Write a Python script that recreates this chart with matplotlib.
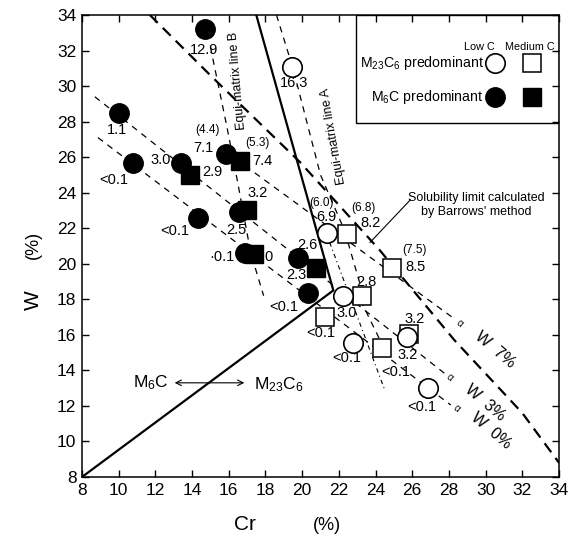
import matplotlib
matplotlib.use("Agg")
import matplotlib.pyplot as plt
from matplotlib.patches import Rectangle

plt.rcParams["font.family"] = ["Liberation Sans", "DejaVu Sans"]
plt.rcParams["mathtext.default"] = "regular"

# ---- data (Cr %, W %) ----
# M6C predominant, low C  (filled circles)
m6c_low_cr = [14.7, 10.0, 10.8, 13.4, 15.85, 14.3, 16.55, 16.9, 19.8, 20.3]
m6c_low_w = [33.2, 28.5, 25.65, 25.65, 26.2, 22.6, 22.9, 20.6, 20.3, 18.35]
m6c_low_lab = ["12.9", "1.1", "<0.1", "3.0", "7.1", "<0.1", "2.5", "·0.1", "2.6", "<0.1"]
# M6C predominant, medium C  (filled squares)
m6c_med_cr = [13.9, 16.6, 17.0, 17.4, 20.75]
m6c_med_w = [25.0, 25.8, 23.0, 20.55, 19.75]
m6c_med_lab = ["2.9", "7.4", "3.2", "0", "2.3"]
# M23C6 predominant, low C  (open circles)
m23_low_cr = [19.45, 21.35, 22.2, 22.77, 25.7, 26.85]
m23_low_w = [31.07, 21.73, 18.2, 15.54, 15.88, 13.0]
m23_low_lab = ["16.3", "6.9", "3.0", "<0.1", "3.2", "<0.1"]
# M23C6 predominant, medium C  (open squares)
m23_med_cr = [22.44, 24.9, 23.26, 21.24, 24.35, 25.82]
m23_med_w = [21.7, 19.76, 18.19, 17.0, 15.26, 16.05]
m23_med_lab = ["8.2", "8.5", "2.8", "<0.1", "<0.1", "3.2"]

# secondary values in brackets above some points
paren_cr = [15.85, 16.6, 21.35, 22.44, 24.9]
paren_w = [26.2, 25.8, 21.73, 21.7, 19.76]
paren_lab = ["(4.4)", "(5.3)", "(6.0)", "(6.8)", "(7.5)"]

# M6C / M23C6 boundary (solid)
bound_cr = [8.0, 21.7, 17.5]
bound_w = [8.0, 18.5, 34.0]
# solubility limit by Barrows' method (heavy dashed)
sol_cr = [11.7, 15.1, 19.9, 24.2, 28.3, 32.0, 34.0]
sol_w = [34.0, 30.5, 25.7, 20.8, 15.7, 11.6, 8.8]
# equi-matrix lines
eqb_cr = [15.0, 15.4, 15.9, 16.5, 17.2, 17.9]
eqb_w = [32.2, 30.2, 27.7, 24.5, 20.6, 18.2]
eqa_cr = [18.6, 19.5, 21.0, 22.3]
eqa_w = [34.0, 31.0, 25.0, 21.9]
eqa2_cr = [22.5, 23.2, 23.3, 24.2]
eqa2_w = [21.2, 18.7, 17.7, 15.8]
eqa3_cr = [21.5, 24.5]
eqa3_w = [21.2, 12.9]
# alpha-W iso lines
aw7_cr = [15.85, 28.3]
aw7_w = [26.3, 16.9]
aw3_cr = [8.7, 27.8]
aw3_w = [29.4, 13.8]
aw0_cr = [8.87, 28.1]
aw0_w = [27.1, 12.05]

# label offsets (pixels) for the value tags
OFF_M6C_LOW = [(-1, -21), (-2, -17), (-20, -17), (-20, 3), (-23, 6),
               (-23, -13), (-2, -18), (-23, -4), (9, 13), (-24, -14)]
OFF_M6C_MED = [(22, 3), (23, 0), (10, 17), (14, -3), (-20, -7)]
OFF_M23_LOW = [(2, -16), (-1, 16), (4, -17), (-6, -15), (1, -18), (-6, -19)]
OFF_M23_MED = [(24, 11), (23, 1), (4, 14), (-4, -16), (14, -24), (6, 15)]
OFF_PAREN = [(-19, 24), (18, 18), (-5, 30), (17, 26), (22, 18)]


def tag(ax, xs, ys, labs, offs, size=10.5):
    for x, y, s, (dx, dy) in zip(xs, ys, labs, offs):
        ax.annotate(s, (x, y), xytext=(dx, dy), textcoords="offset pixels",
                    ha="center", va="center", fontsize=size)


def main():
    fig = plt.figure(figsize=(5.79, 5.40), dpi=100)
    ax = fig.add_axes([82 / 579, 1 - 477 / 540, (559 - 82) / 579, (477 - 15) / 540])
    ax.set_xlim(8, 34)
    ax.set_ylim(8, 34)
    ax.set_xticks(range(8, 35, 2))
    ax.set_yticks(range(8, 35, 2))
    ax.tick_params(direction="in", top=True, right=True, length=5, width=1,
                   labelsize=12.5, pad=4)
    for sp in ax.spines.values():
        sp.set_linewidth(1.1)

    thin = dict(color="black", lw=0.9, dashes=(5, 4.5))
    ax.plot(bound_cr, bound_w, color="black", lw=1.6)
    ax.plot(sol_cr, sol_w, color="black", lw=1.6, dashes=(5, 3.2))
    ax.plot(eqb_cr, eqb_w, **thin)
    ax.plot(eqa_cr, eqa_w, **thin)
    ax.plot(eqa2_cr, eqa2_w, **thin)
    ax.plot(eqa3_cr, eqa3_w, color="black", lw=0.8, dashes=(4, 3, 1, 3))
    ax.plot(aw7_cr, aw7_w, **thin)
    ax.plot(aw3_cr, aw3_w, **thin)
    ax.plot(aw0_cr, aw0_w, **thin)

    # markers
    ax.plot(m6c_low_cr, m6c_low_w, "o", ms=14, color="black", zorder=4)
    ax.plot(m6c_med_cr, m6c_med_w, "s", ms=13, color="black", zorder=5)
    ax.plot(m23_med_cr, m23_med_w, "s", ms=13, mfc="white", mec="black", mew=1.1, zorder=4)
    ax.plot(m23_low_cr, m23_low_w, "o", ms=14, mfc="white", mec="black", mew=1.2, zorder=5)

    tag(ax, m6c_low_cr, m6c_low_w, m6c_low_lab, OFF_M6C_LOW)
    tag(ax, m6c_med_cr, m6c_med_w, m6c_med_lab, OFF_M6C_MED)
    tag(ax, m23_low_cr, m23_low_w, m23_low_lab, OFF_M23_LOW)
    tag(ax, m23_med_cr, m23_med_w, m23_med_lab, OFF_M23_MED)
    tag(ax, paren_cr, paren_w, paren_lab, OFF_PAREN, size=8.5)

    # line names
    ax.text(16.5, 30.3, "Equi-matrix line B", rotation=95, ha="center", va="center", fontsize=9)
    ax.text(21.7, 27.2, "Equi-matrix line A", rotation=100, ha="center", va="center", fontsize=9)
    ax.text(29.5, 23.3, "Solubility limit calculated\nby Barrows' method",
            ha="center", va="center", fontsize=9, linespacing=1.3)
    ax.plot([23.7, 25.9], [21.2, 23.6], color="black", lw=0.8)

    # alpha-W tags
    for a_cr, a_w, w_cr, w_w, s in [(28.6, 16.67, 30.5, 15.15, "W  7%"),
                                    (28.05, 13.63, 29.96, 12.2, "W  3%"),
                                    (28.4, 11.88, 30.3, 10.6, "W  0%")]:
        ax.text(a_cr, a_w, "α", rotation=-38, ha="center", va="center", fontsize=7)
        ax.text(w_cr, w_w, s, rotation=-40, ha="center", va="center", fontsize=11.5)

    # M6C <-> M23C6
    ax.text(11.76, 13.3, "M$_6$C", ha="center", va="center", fontsize=12.5)
    ax.text(18.7, 13.2, "M$_{23}$C$_6$", ha="center", va="center", fontsize=12.5)
    ax.annotate("", xy=(12.9, 13.3), xytext=(17.0, 13.3),
                arrowprops=dict(arrowstyle="<->", lw=0.8, color="black"))

    # legend box (top right corner)
    px = lambda x: (x - 82) / (559 - 82)
    py = lambda y: (477 - y) / (477 - 15)
    tr = ax.transAxes
    ax.add_patch(Rectangle((px(356), py(123)), 1 - px(356), 1 - py(123), transform=tr,
                           fill=False, ec="black", lw=1.0, zorder=6))
    ax.text(px(479), py(47), "Low C", transform=tr, ha="center", va="center", fontsize=7.8)
    ax.text(px(530), py(47), "Medium C", transform=tr, ha="center", va="center", fontsize=7.8)
    ax.text(px(484), py(63), "M$_{23}$C$_6$ predominant", transform=tr, ha="right",
            va="center", fontsize=10.2)
    ax.text(px(483), py(97), "M$_6$C predominant", transform=tr, ha="right",
            va="center", fontsize=10.2)
    ax.plot([px(495)], [py(63)], "o", ms=14, mfc="white", mec="black", mew=1.2, transform=tr)
    ax.plot([px(532)], [py(63)], "s", ms=13, mfc="white", mec="black", mew=1.1, transform=tr)
    ax.plot([px(495)], [py(97)], "o", ms=14, color="black", transform=tr)
    ax.plot([px(532)], [py(97)], "s", ms=13, color="black", transform=tr)

    # axis titles
    fig.text(245 / 579, 1 - 525 / 540, "Cr", ha="center", va="center", fontsize=15)
    fig.text(327 / 579, 1 - 525 / 540, "(%)", ha="center", va="center", fontsize=13)
    fig.text(33 / 579, 1 - 300 / 540, "W", ha="center", va="center", fontsize=15, rotation=90)
    fig.text(33 / 579, 1 - 245 / 540, "(%)", ha="center", va="center", fontsize=13, rotation=90)

    fig.savefig("out.png", dpi=100)


if __name__ == "__main__":
    main()
